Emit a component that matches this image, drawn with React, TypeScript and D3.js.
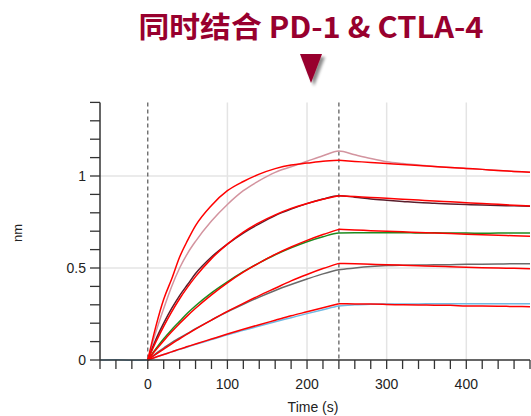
import React from "react";
import * as d3 from "d3";

// sample times (s)
const tBase = [-60, -40, -20, 0];
const tAssoc = [0, 10, 20, 30, 40, 50, 60, 80, 100, 120, 140, 160, 180, 200, 220, 240];
const tDiss = [240, 260, 280, 300, 320, 340, 360, 380, 400, 420, 440, 460, 480];

// measured curves (nm), highest concentration first
const raw1A = [0, 0.15, 0.28, 0.4, 0.5, 0.58, 0.645, 0.755, 0.845, 0.92, 0.975, 1.02, 1.05, 1.08, 1.11, 1.136];
const raw1D = [1.136, 1.115, 1.095, 1.078, 1.068, 1.06, 1.052, 1.046, 1.041, 1.036, 1.03, 1.025, 1.02];
const raw2A = [0, 0.11, 0.2, 0.28, 0.35, 0.41, 0.47, 0.56, 0.63, 0.69, 0.74, 0.785, 0.82, 0.85, 0.875, 0.893];
const raw2D = [0.893, 0.885, 0.875, 0.868, 0.862, 0.856, 0.852, 0.848, 0.845, 0.842, 0.84, 0.838, 0.836];
const raw3A = [0, 0.06, 0.115, 0.165, 0.21, 0.255, 0.295, 0.365, 0.425, 0.48, 0.528, 0.572, 0.61, 0.643, 0.67, 0.69];
const raw3D = [0.69, 0.692, 0.692, 0.691, 0.692, 0.69, 0.691, 0.69, 0.69, 0.689, 0.69, 0.69, 0.69];
const raw4A = [0, 0.035, 0.065, 0.095, 0.12, 0.145, 0.17, 0.217, 0.262, 0.303, 0.342, 0.378, 0.41, 0.44, 0.468, 0.49];
const raw4D = [0.49, 0.5, 0.508, 0.513, 0.515, 0.516, 0.517, 0.518, 0.52, 0.521, 0.522, 0.523, 0.523];
const raw5A = [0, 0.016, 0.03, 0.044, 0.058, 0.071, 0.085, 0.111, 0.137, 0.161, 0.185, 0.208, 0.23, 0.252, 0.273, 0.293];
const raw5D = [0.293, 0.3, 0.303, 0.304, 0.305, 0.305, 0.306, 0.306, 0.306, 0.306, 0.306, 0.306, 0.306];
const rawBase = [0, 0.002, -0.001, 0];

// fitted curves (nm)
const fit1A = [0, 0.18, 0.33, 0.44, 0.56, 0.65, 0.73, 0.84, 0.92, 0.97, 1.01, 1.04, 1.06, 1.07, 1.08, 1.085];
const fit1D = [1.085, 1.079, 1.074, 1.068, 1.063, 1.057, 1.052, 1.046, 1.041, 1.036, 1.03, 1.025, 1.02];
const fit2A = [0, 0.097, 0.183, 0.262, 0.333, 0.396, 0.453, 0.551, 0.63, 0.695, 0.747, 0.789, 0.824, 0.851, 0.874, 0.893];
const fit2D = [0.893, 0.888, 0.883, 0.879, 0.874, 0.869, 0.864, 0.86, 0.855, 0.85, 0.846, 0.841, 0.837];
const fit3A = [0, 0.054, 0.105, 0.153, 0.198, 0.241, 0.281, 0.354, 0.419, 0.477, 0.528, 0.574, 0.614, 0.65, 0.682, 0.71];
const fit3D = [0.71, 0.707, 0.703, 0.7, 0.697, 0.693, 0.69, 0.687, 0.684, 0.681, 0.678, 0.675, 0.672];
const fit4A = [0, 0.03, 0.059, 0.088, 0.115, 0.142, 0.168, 0.217, 0.264, 0.308, 0.35, 0.39, 0.43, 0.465, 0.497, 0.525];
const fit4D = [0.525, 0.523, 0.52, 0.518, 0.515, 0.512, 0.509, 0.507, 0.504, 0.502, 0.5, 0.498, 0.496];
const fit5A = [0, 0.015, 0.03, 0.044, 0.059, 0.073, 0.087, 0.114, 0.141, 0.167, 0.192, 0.216, 0.24, 0.262, 0.284, 0.306];
const fit5D = [0.306, 0.305, 0.304, 0.302, 0.3, 0.299, 0.298, 0.297, 0.294, 0.293, 0.292, 0.291, 0.29];

const rawColors = ["#d3949f", "#5a1e2c", "#1f8a1f", "#6a6a6a", "#6fb8e2"];
const yTickLabels = ["0", "0.5", "1"];
const xTickLabels = ["0", "100", "200", "300", "400"];

const W = 531;
const H = 416;

export default function App() {
  const x = d3.scaleLinear().domain([-60, 480]).range([100, 530]);
  const y = d3.scaleLinear().domain([0, 1.4]).range([360, 102.4]);

  const line = d3
    .line<[number, number]>()
    .x((d) => x(d[0]))
    .y((d) => y(d[1]))
    .curve(d3.curveMonotoneX);

  const zip = (ts: number[], vs: number[]) => ts.map((t, i) => [t, vs[i]] as [number, number]);

  const raws = [
    [raw1A, raw1D],
    [raw2A, raw2D],
    [raw3A, raw3D],
    [raw4A, raw4D],
    [raw5A, raw5D],
  ];
  const fits = [
    [fit1A, fit1D],
    [fit2A, fit2D],
    [fit3A, fit3D],
    [fit4A, fit4D],
    [fit5A, fit5D],
  ];

  const xMinor = d3.range(-60, 481, 20);
  const yMinor = d3.range(0, 15).map((i) => i / 10);
  const font = "'Liberation Sans', Arial, sans-serif";

  return (
    <svg width={W} height={H} style={{ position: "absolute", left: 0, top: 0 }}>
      <defs>
        <filter id="shadow" x="-50%" y="-50%" width="200%" height="200%">
          <feDropShadow dx="3" dy="3" stdDeviation="1.5" floodColor="#000" floodOpacity="0.45" />
        </filter>
      </defs>
      <rect width={W} height={H} fill="#fff" />

      {/* title */}
      <text
        x={311}
        y={38}
        textAnchor="middle"
        fontFamily="'Noto Sans CJK SC', sans-serif"
        fontWeight="bold"
        fontSize={29}
        textLength={345}
        lengthAdjust="spacingAndGlyphs"
        fill="#98002e"
      >
        同时结合 PD-1 &amp; CTLA-4
      </text>
      <path d="M300,54 L322,54 L311,83 Z" fill="#98002e" filter="url(#shadow)" />

      {/* grid */}
      {[100, 200, 300, 400].map((t) => (
        <line key={"gx" + t} x1={x(t)} x2={x(t)} y1={y(1.4)} y2={y(0)} stroke="#e4e4e4" strokeWidth={1.5} />
      ))}
      {[0.5, 1].map((v) => (
        <line key={"gy" + v} x1={x(-60)} x2={x(480)} y1={y(v)} y2={y(v)} stroke="#e4e4e4" strokeWidth={1.5} />
      ))}

      {/* injection markers */}
      {[0, 240].map((t) => (
        <line
          key={"d" + t}
          x1={x(t)}
          x2={x(t)}
          y1={y(1.4)}
          y2={y(0)}
          stroke="#555"
          strokeWidth={1.2}
          strokeDasharray="4,3"
        />
      ))}

      {/* data */}
      <path d={line(zip(tBase, rawBase)) || ""} fill="none" stroke={rawColors[4]} strokeWidth={1.5} />
      {raws.map((r, i) => (
        <path
          key={"r" + i}
          d={line(zip(tAssoc, r[0]).concat(zip(tDiss, r[1]).slice(1))) || ""}
          fill="none"
          stroke={rawColors[i]}
          strokeWidth={1.5}
        />
      ))}
      {fits.map((f, i) => (
        <g key={"f" + i}>
          <path d={line(zip(tAssoc, f[0])) || ""} fill="none" stroke="#ff0000" strokeWidth={1.5} />
          <path d={line(zip(tDiss, f[1])) || ""} fill="none" stroke="#ff0000" strokeWidth={1.5} />
        </g>
      ))}

      {/* axes */}
      <line x1={x(-60)} x2={x(480)} y1={y(0)} y2={y(0)} stroke="#333" strokeWidth={1.5} />
      <line x1={x(-60)} x2={x(-60)} y1={y(1.4)} y2={y(0)} stroke="#333" strokeWidth={1.5} />
      {xMinor.map((t) => (
        <line key={"xt" + t} x1={x(t)} x2={x(t)} y1={y(0)} y2={y(0) + 9} stroke="#333" strokeWidth={1.3} />
      ))}
      {yMinor.map((v) => (
        <line key={"yt" + v} x1={x(-60) - 10} x2={x(-60)} y1={y(v)} y2={y(v)} stroke="#333" strokeWidth={1.3} />
      ))}
      {xTickLabels.map((s) => (
        <text key={"xl" + s} x={x(+s)} y={389} textAnchor="middle" fontFamily={font} fontSize={14} fill="#222">
          {s}
        </text>
      ))}
      {yTickLabels.map((s) => (
        <text
          key={"yl" + s}
          x={86}
          y={y(+s)}
          dy="0.35em"
          textAnchor="end"
          fontFamily={font}
          fontSize={14}
          fill="#222"
        >
          {s}
        </text>
      ))}
      <text x={313} y={412} textAnchor="middle" fontFamily={font} fontSize={14} fill="#222">
        Time (s)
      </text>
      <text
        transform="translate(22,233) rotate(-90)"
        textAnchor="middle"
        fontFamily={font}
        fontSize={13}
        fill="#222"
      >
        nm
      </text>
    </svg>
  );
}
